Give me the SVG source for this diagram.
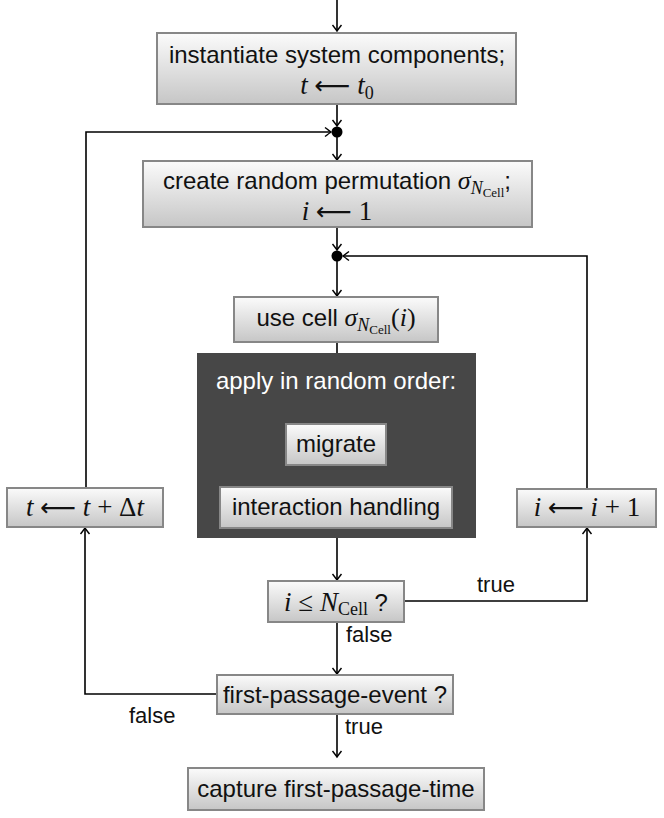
<svg xmlns="http://www.w3.org/2000/svg" width="664" height="818" viewBox="0 0 664 818">
<defs>
<linearGradient id="g" x1="0" y1="0" x2="0" y2="1">
<stop offset="0" stop-color="#fbfbfb"/>
<stop offset="1" stop-color="#c6c6c6"/>
</linearGradient>
<marker id="ah" markerWidth="12" markerHeight="12" refX="0" refY="0" viewBox="-8 -6 10 12" orient="auto" markerUnits="userSpaceOnUse">
<path d="M-6,-4.5 Q-1.5,-1 0,0 Q-1.5,1 -6,4.5" fill="none" stroke="#000" stroke-width="1.4"/>
</marker>
</defs>
<style>
.box{fill:url(#g);stroke:#878787;stroke-width:2}
.dark{fill:#474747}
.t{font-family:"Liberation Sans",Arial,sans-serif;font-size:24px;fill:#111;text-anchor:middle}
.w{fill:#fff}
.lbl{font-family:"Liberation Sans",Arial,sans-serif;font-size:22px;fill:#111}
.m{font-family:"Liberation Serif","DejaVu Serif",serif;fill:#111}
.mt{font-size:27px;text-anchor:middle}
.i{font-style:italic}
.ar{font-family:"DejaVu Sans",sans-serif;font-size:25px}
.c{fill:none;stroke:#000;stroke-width:1.6}
</style>

<g id="connectors">
<line class="c" x1="337" y1="0" x2="337" y2="31" marker-end="url(#ah)"/>
<line class="c" x1="337" y1="104" x2="337" y2="126" marker-end="url(#ah)"/>
<polyline class="c" points="86,488 86,132 331,132" marker-end="url(#ah)"/>
<line class="c" x1="337" y1="132" x2="337" y2="160" marker-end="url(#ah)"/>
<line class="c" x1="337" y1="227" x2="337" y2="250" marker-end="url(#ah)"/>
<polyline class="c" points="587,489 587,256 343,256" marker-end="url(#ah)"/>
<line class="c" x1="337" y1="256" x2="337" y2="296" marker-end="url(#ah)"/>
<line class="c" x1="337" y1="342" x2="337" y2="353"/>
<line class="c" x1="337" y1="538" x2="337" y2="580" marker-end="url(#ah)"/>
<polyline class="c" points="404,601 587,601 587,528" marker-end="url(#ah)"/>
<line class="c" x1="337" y1="622" x2="337" y2="674" marker-end="url(#ah)"/>
<polyline class="c" points="217,694 85,694 85,528" marker-end="url(#ah)"/>
<line class="c" x1="337" y1="714" x2="337" y2="757" marker-end="url(#ah)"/>
<circle cx="337" cy="132" r="5.5" fill="#000"/>
<circle cx="337" cy="256" r="5.5" fill="#000"/>
<text class="lbl" x="477" y="592">true</text>
<text class="lbl" x="346" y="642">false</text>
<text class="lbl" x="129" y="723">false</text>
<text class="lbl" x="345" y="734">true</text>
</g>

<g id="init">
<rect class="box" x="157" y="33" width="359" height="71"/>
<text class="t" x="337" y="63">instantiate system components;</text>
<text class="m mt" x="337" y="94"><tspan class="i">t</tspan> <tspan class="ar">⟵</tspan> <tspan class="i">t</tspan><tspan style="font-size:18px" dy="5">0</tspan></text>
</g>

<g id="perm">
<rect class="box" x="143" y="161" width="389" height="66"/>
<text class="t" x="337" y="189">create random permutation <tspan class="m i" style="font-size:26px">σ</tspan><tspan class="m i" style="font-size:18px" dy="5">N</tspan><tspan class="m" style="font-size:13px" dy="3">Cell</tspan><tspan dy="-8">;</tspan></text>
<text class="m mt" x="337" y="220"><tspan class="i">i</tspan> <tspan class="ar">⟵</tspan> 1</text>
</g>

<g id="usecell">
<rect class="box" x="234" y="297" width="204" height="45"/>
<text class="t" x="336" y="326">use cell <tspan class="m i" style="font-size:26px">σ</tspan><tspan class="m i" style="font-size:18px" dy="5">N</tspan><tspan class="m" style="font-size:13px" dy="3">Cell</tspan><tspan class="m" style="font-size:26px" dy="-8">(</tspan><tspan class="m i" style="font-size:26px">i</tspan><tspan class="m" style="font-size:26px">)</tspan></text>
</g>

<g id="apply">
<rect class="dark" x="197" y="353" width="279" height="185"/>
<text class="t w" x="336" y="389">apply in random order:</text>
</g>

<g id="migrate">
<rect class="box" x="286" y="424" width="100" height="41"/>
<text class="t" x="336" y="452">migrate</text>
</g>

<g id="interaction">
<rect class="box" x="220" y="487" width="232" height="41"/>
<text class="t" x="336" y="515">interaction handling</text>
</g>

<g id="tupdate">
<rect class="box" x="7" y="488" width="156" height="39"/>
<text class="m mt" x="85" y="516"><tspan class="i">t</tspan> <tspan class="ar">⟵</tspan> <tspan class="i">t</tspan> + Δ<tspan class="i">t</tspan></text>
</g>

<g id="iupdate">
<rect class="box" x="517" y="489" width="139" height="38"/>
<text class="m mt" x="587" y="516"><tspan class="i">i</tspan> <tspan class="ar">⟵</tspan> <tspan class="i">i</tspan> + 1</text>
</g>

<g id="cond">
<rect class="box" x="268" y="581" width="136" height="41"/>
<text class="m mt" x="336" y="611"><tspan class="i">i</tspan> ≤ <tspan class="i">N</tspan><tspan style="font-size:18px" dy="4">Cell</tspan><tspan style="font-family:'Liberation Sans',Arial,sans-serif;font-size:24px" dy="-4"> ?</tspan></text>
</g>

<g id="fpe">
<rect class="box" x="217" y="675" width="236" height="39"/>
<text class="t" x="335" y="703">first-passage-event ?</text>
</g>

<g id="capture">
<rect class="box" x="188" y="768" width="296" height="42"/>
<text class="t" x="336" y="797">capture first-passage-time</text>
</g>
</svg>
